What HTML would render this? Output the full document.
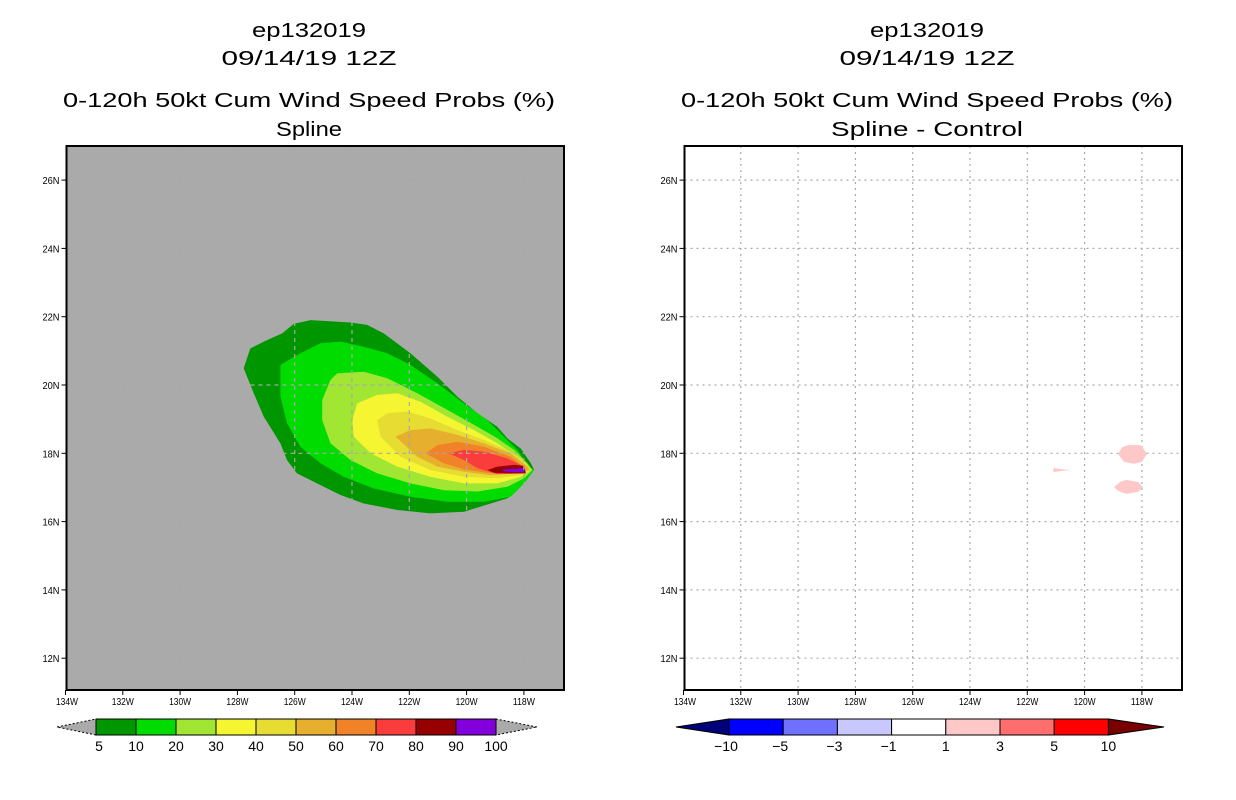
<!DOCTYPE html>
<html><head><meta charset="utf-8"><style>
html,body{margin:0;padding:0;background:#fff;}
svg{display:block;}
text{font-family:"Liberation Sans",sans-serif;fill:#000;}
</style></head><body>
<svg id="svg" width="1236" height="800" viewBox="0 0 1236 800" xmlns="http://www.w3.org/2000/svg">
<g>
<text x="309" y="37" font-size="20" text-anchor="middle" textLength="114" lengthAdjust="spacingAndGlyphs">ep132019</text>
<text x="309" y="65" font-size="20" text-anchor="middle" textLength="175" lengthAdjust="spacingAndGlyphs">09/14/19 12Z</text>
<text x="309" y="107" font-size="20" text-anchor="middle" textLength="492" lengthAdjust="spacingAndGlyphs">0-120h 50kt Cum Wind Speed Probs (%)</text>
<text x="309" y="136" font-size="20" text-anchor="middle" textLength="66" lengthAdjust="spacingAndGlyphs">Spline</text>
</g>
<g>
<text x="927" y="37" font-size="20" text-anchor="middle" textLength="114" lengthAdjust="spacingAndGlyphs">ep132019</text>
<text x="927" y="65" font-size="20" text-anchor="middle" textLength="175" lengthAdjust="spacingAndGlyphs">09/14/19 12Z</text>
<text x="927" y="107" font-size="20" text-anchor="middle" textLength="492" lengthAdjust="spacingAndGlyphs">0-120h 50kt Cum Wind Speed Probs (%)</text>
<text x="927" y="136" font-size="20" text-anchor="middle" textLength="192" lengthAdjust="spacingAndGlyphs">Spline - Control</text>
</g>
<g id="left"></g>
<g id="right"></g>
<g id="lcb"></g>
<g id="rcb"></g>
</svg>
<script>
const lonTicks=[134,132,130,128,126,124,122,120,118];
const latTicks=[26,24,22,20,18,16,14,12];
const probLevels=[5,10,20,30,40,50,60,70,80,90];
const probColors=["#009600","#00dc00","#a0e632","#f5f532","#e6dc32","#e6af2d","#f08228","#fa3c3c","#960000","#8200dc"];
const probLabels=["5","10","20","30","40","50","60","70","80","90","100"];
const p5=[[127.78,20.49],[127.55,21.07],[127.08,21.27],[126.44,21.51],[126.03,21.79],[125.45,21.90],[124.05,21.83],[123.47,21.76],[122.89,21.51],[121.96,20.93],[121.02,20.24],[120.32,19.66],[119.62,19.17],[118.93,18.78],[118.58,18.44],[118.11,18.14],[117.76,17.71],[117.64,17.51],[117.99,17.22],[118.23,16.92],[118.58,16.68],[119.51,16.44],[120.09,16.29],[121.26,16.24],[122.42,16.34],[123.59,16.53],[124.40,16.78],[125.22,17.12],[125.92,17.41],[126.27,17.80],[126.50,18.29],[127.08,19.07],[127.43,19.76]];
const p10=[[126.50,20.59],[125.80,20.93],[125.10,21.22],[124.40,21.27],[123.59,21.12],[122.77,20.93],[121.96,20.59],[121.02,20.05],[120.09,19.46],[119.27,18.97],[118.69,18.49],[118.23,18.10],[117.82,17.61],[117.64,17.51],[117.99,17.12],[118.46,16.73],[119.39,16.58],[120.67,16.58],[121.96,16.73],[123.24,16.97],[124.29,17.31],[125.10,17.71],[125.80,18.19],[126.27,18.88],[126.50,19.66]];
const p20=[[125.04,19.56],[124.75,20.15],[124.52,20.34],[123.59,20.39],[122.77,20.20],[121.72,19.76],[120.67,19.27],[119.62,18.78],[118.93,18.44],[118.34,18.10],[117.88,17.71],[117.70,17.51],[117.99,17.27],[118.58,17.02],[119.62,16.88],[120.79,16.92],[121.96,17.12],[123.12,17.41],[124.05,17.80],[124.75,18.29],[125.04,18.97]];
const p30=[[123.99,18.97],[123.82,19.46],[123.12,19.71],[122.42,19.76],[121.61,19.51],[120.67,19.07],[119.74,18.68],[118.93,18.29],[118.23,17.90],[117.76,17.51],[118.11,17.31],[118.93,17.12],[120.09,17.12],[121.26,17.31],[122.42,17.61],[123.35,18.00],[123.94,18.49]];
const p40=[[123.12,18.97],[122.77,19.17],[122.07,19.22],[121.26,19.02],[120.32,18.68],[119.39,18.39],[118.58,18.10],[118.00,17.80],[117.76,17.51],[118.11,17.36],[118.93,17.27],[120.09,17.31],[121.26,17.51],[122.31,17.90],[123.00,18.49]];
const p50=[[122.48,18.49],[121.96,18.68],[121.26,18.73],[120.32,18.54],[119.39,18.29],[118.46,18.00],[117.88,17.61],[117.82,17.51],[118.23,17.41],[119.16,17.36],[120.09,17.46],[121.02,17.61],[121.72,17.90]];
const p60=[[121.43,18.00],[121.02,18.24],[120.32,18.34],[119.39,18.19],[118.46,17.90],[117.94,17.56],[118.23,17.43],[119.16,17.41],[120.09,17.53],[120.79,17.71]];
const p70=[[120.62,18.00],[120.09,18.10],[119.39,18.05],[118.58,17.85],[118.00,17.61],[118.00,17.41],[118.93,17.39],[119.62,17.56],[120.09,17.80]];
const p80=[[119.27,17.51],[118.93,17.61],[118.34,17.66],[117.99,17.63],[117.93,17.41],[118.46,17.41],[119.04,17.43]];
const p90=[[118.75,17.53],[117.99,17.56],[117.99,17.44],[118.69,17.46]];
const probContours=[p5,p10,p20,p30,p40,p50,p60,p70,p80,p90];
const diffLevels=["-10","-5","-3","-1","1","3","5","10"];
const diffColors=["#0000ff","#7070ff","#c8c8ff","#ffffff","#ffc8c8","#ff6e6e","#ff0000"];
const d1=[[118.83,17.98],[118.69,18.18],[118.49,18.24],[118.03,18.24],[117.82,17.98],[118.00,17.75],[118.28,17.69],[118.63,17.75]];
const d2=[[118.97,17.01],[118.76,17.16],[118.55,17.22],[118.13,17.16],[117.96,17.01],[118.13,16.87],[118.55,16.81],[118.83,16.90]];
const d3=[[121.10,17.51],[121.07,17.57],[120.86,17.54],[120.51,17.51],[120.86,17.48],[121.07,17.45]];
const diffBlobs=[d1,d2,d3];

const NS="http://www.w3.org/2000/svg";
function mk(p,tag,a){const e=document.createElementNS(NS,tag);for(const k in a)e.setAttribute(k,a[k]);p.appendChild(e);return e;}
const BOX={x0:66.5,x1:564,y0:146,y1:690};
function xs(off){return lon=>off+65.5+(134-lon)*28.65;}
function ys(lat){return 385-(lat-20)*34.15;}
function pts(poly,X){return poly.map(p=>X(p[0]).toFixed(1)+","+ys(p[1]).toFixed(1)).join(" ");}

function panel(g,off,bg,gridCol,dash){
  const X=xs(off);
  const r=mk(g,"rect",{x:BOX.x0+off,y:BOX.y0,width:BOX.x1-BOX.x0,height:BOX.y1-BOX.y0,fill:bg});
  
  
  return X;
}
function grid(g,off,X,col,dash){
  lonTicks.slice(1).forEach(l=>{const ln=mk(g,"line",{x1:X(l),x2:X(l),y1:BOX.y0,y2:BOX.y1,stroke:col,"stroke-width":1.2,"stroke-dasharray":dash});
    
    });
  latTicks.forEach(l=>{const ln=mk(g,"line",{x1:BOX.x0+off,x2:BOX.x1+off,y1:ys(l),y2:ys(l),stroke:col,"stroke-width":1.2,"stroke-dasharray":dash});
    
    });
}
function axes(g,off,X){
  const f=mk(g,"rect",{x:BOX.x0+off,y:BOX.y0,width:BOX.x1-BOX.x0,height:BOX.y1-BOX.y0,fill:"none",stroke:"#000","stroke-width":2});
  
  
  lonTicks.forEach(l=>{mk(g,"line",{x1:X(l),x2:X(l),y1:BOX.y1,y2:BOX.y1+5,stroke:"#000","stroke-width":1});
    const t=mk(g,"text",{x:X(l)+(l==134?1.5:0),y:BOX.y1+15,"font-size":10,"text-anchor":"middle",textLength:22,lengthAdjust:"spacingAndGlyphs"});t.textContent=l+"W";
    
    });
  latTicks.forEach(l=>{mk(g,"line",{x1:BOX.x0+off-5,x2:BOX.x0+off,y1:ys(l),y2:ys(l),stroke:"#000","stroke-width":1});
    const t=mk(g,"text",{x:BOX.x0+off-7,y:ys(l)+4,"font-size":10,"text-anchor":"end",textLength:17,lengthAdjust:"spacingAndGlyphs"});t.textContent=l+"N";
    
    });
}
// left
const L=document.getElementById("left");
const XL=panel(L,0,"#aaaaaa");
probContours.forEach((c,i)=>{const p=mk(L,"polygon",{points:pts(c,XL),fill:probColors[i]});
  
  });
grid(L,0,XL,"#a8a8a8","4,4");
axes(L,0,XL);
// right
const R=document.getElementById("right");
const XR=panel(R,618,"#ffffff");
grid(R,618,XR,"#aaaaaa","2,4");
diffBlobs.forEach(c=>{const p=mk(R,"polygon",{points:pts(c,XR),fill:"#ffc8c8"});
  
  });
axes(R,618,XR);
// left colorbar
const LC=document.getElementById("lcb");
const cy0=719,cy1=735,cm=727;
let t1=mk(LC,"polygon",{points:`57,${cm} 96,${cy0} 96,${cy1}`,fill:"#aaaaaa",stroke:"#000","stroke-width":1,"stroke-dasharray":"2,2"});


let t2=mk(LC,"polygon",{points:`537,${cm} 496,${cy0} 496,${cy1}`,fill:"#aaaaaa",stroke:"#000","stroke-width":1,"stroke-dasharray":"2,2"});


probColors.forEach((c,i)=>{const r=mk(LC,"rect",{x:96+i*40,y:cy0,width:40,height:cy1-cy0,fill:c,stroke:"#000","stroke-width":1});
  
  });
probLabels.forEach((s,i)=>{const t=mk(LC,"text",{x:96+i*40+(i==0?3:0),y:751,"font-size":14,"text-anchor":"middle"});t.textContent=s;
  
  });
// right colorbar
const RC=document.getElementById("rcb");
const rx0=729,rw=54.2;
let t3=mk(RC,"polygon",{points:`676,${cm} ${rx0},${cy0} ${rx0},${cy1}`,fill:"#000078",stroke:"#000","stroke-width":1});


let t4=mk(RC,"polygon",{points:`1164,${cm} ${rx0+7*rw},${cy0} ${rx0+7*rw},${cy1}`,fill:"#780000",stroke:"#000","stroke-width":1});


diffColors.forEach((c,i)=>{const r=mk(RC,"rect",{x:rx0+i*rw,y:cy0,width:rw,height:cy1-cy0,fill:c,stroke:"#000","stroke-width":1});
  
  });
diffLevels.forEach((s,i)=>{const t=mk(RC,"text",{x:rx0+i*rw-(s[0]=="-"?3:0),y:751,"font-size":14,"text-anchor":"middle"});t.textContent=s.replace("-","\u2212");
  
  });
</script>
</body></html>
